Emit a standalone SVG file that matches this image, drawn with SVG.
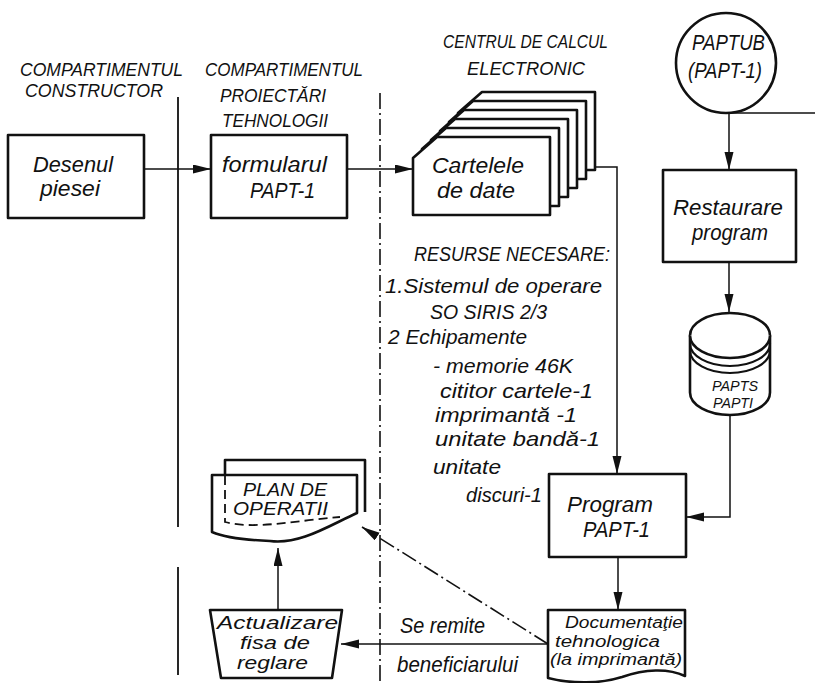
<svg xmlns="http://www.w3.org/2000/svg" width="815" height="683" viewBox="0 0 815 683">
<style>
text{font-family:"Liberation Sans",Arial,sans-serif;font-style:italic;font-size:22px;fill:#111;}
.box{fill:#fff;stroke:#111;stroke-width:2.6;stroke-linejoin:round;}
.ln{fill:none;stroke:#111;stroke-width:1.5;}
.div{fill:none;stroke:#111;stroke-width:1.8;}
.dd{fill:none;stroke:#111;stroke-width:1.6;stroke-dasharray:16,4,2,4;}
.dash{fill:none;stroke:#111;stroke-width:1.8;stroke-dasharray:9,5;}
.hd{font-size:19px;}
.res{font-size:21px;}
.sm{font-size:15px;}
.md{font-size:18px;}
.doc{font-size:16px;}
</style>
<defs>
<marker id="ah" markerUnits="userSpaceOnUse" markerWidth="20" markerHeight="10" refX="18" refY="4.5" orient="auto">
<path d="M0,0 L18,4.5 L0,9 Z" fill="#111"/>
</marker>
</defs>
<rect width="815" height="683" fill="#fff"/>

<g id="dividers">
<path class="div" d="M178,97 V527 M178,567 V675"/>
<path class="dd" d="M380,93 V682"/>
</g>

<g id="headers">
<text class="hd" x="20" y="76" textLength="163" lengthAdjust="spacingAndGlyphs">COMPARTIMENTUL</text>
<text class="hd" x="25" y="97" textLength="138" lengthAdjust="spacingAndGlyphs">CONSTRUCTOR</text>
<text class="hd" x="205" y="76" textLength="158" lengthAdjust="spacingAndGlyphs">COMPARTIMENTUL</text>
<text class="hd" x="220" y="102" textLength="106" lengthAdjust="spacingAndGlyphs">PROIECTĂRI</text>
<text class="hd" x="222" y="127" textLength="106" lengthAdjust="spacingAndGlyphs">TEHNOLOGII</text>
<text class="hd" x="443" y="48" textLength="165" lengthAdjust="spacingAndGlyphs">CENTRUL DE CALCUL</text>
<text class="hd" x="467" y="75" textLength="118" lengthAdjust="spacingAndGlyphs">ELECTRONIC</text>
</g>

<g id="desenul">
<rect class="box" x="8" y="135" width="136" height="83"/>
<text x="33" y="172" textLength="80" lengthAdjust="spacingAndGlyphs">Desenul</text>
<text x="40" y="196" textLength="60" lengthAdjust="spacingAndGlyphs">piesei</text>
</g>

<g id="formularul">
<rect class="box" x="211" y="135" width="136" height="83"/>
<text x="222" y="172" textLength="105" lengthAdjust="spacingAndGlyphs">formularul</text>
<text x="250" y="198" textLength="65" lengthAdjust="spacingAndGlyphs">PAPT-1</text>
</g>

<g id="cartelele">
<path class="box" d="M458,113 L482,92 H595 V170 H458 Z"/>
<path class="box" d="M449,122 L473,101 H586 V179 H449 Z"/>
<path class="box" d="M440,131 L464,110 H577 V188 H440 Z"/>
<path class="box" d="M431,140 L455,119 H568 V197 H431 Z"/>
<path class="box" d="M422,149 L446,128 H559 V206 H422 Z"/>
<path class="box" d="M413,158 L437,137 H550 V215 H413 Z"/>
<text x="432" y="173" textLength="92" lengthAdjust="spacingAndGlyphs">Cartelele</text>
<text x="437" y="198" textLength="78" lengthAdjust="spacingAndGlyphs">de date</text>
</g>

<g id="resurse">
<text class="res" x="414" y="261" textLength="196" lengthAdjust="spacingAndGlyphs">RESURSE NECESARE:</text>
<text class="res" x="385" y="293" textLength="217" lengthAdjust="spacingAndGlyphs">1.Sistemul de operare</text>
<text class="res" x="430" y="319" textLength="117" lengthAdjust="spacingAndGlyphs">SO SIRIS 2/3</text>
<text class="res" x="388" y="344" textLength="139" lengthAdjust="spacingAndGlyphs">2 Echipamente</text>
<text class="res" x="433" y="373" textLength="140" lengthAdjust="spacingAndGlyphs">- memorie 46K</text>
<text class="res" x="440" y="398" textLength="153" lengthAdjust="spacingAndGlyphs">cititor cartele-1</text>
<text class="res" x="435" y="422" textLength="142" lengthAdjust="spacingAndGlyphs">imprimantă -1</text>
<text class="res" x="435" y="446" textLength="165" lengthAdjust="spacingAndGlyphs">unitate bandă-1</text>
<text class="res" x="433" y="474" textLength="68" lengthAdjust="spacingAndGlyphs">unitate</text>
<text class="res" x="466" y="502" textLength="76" lengthAdjust="spacingAndGlyphs">discuri-1</text>
</g>

<g id="paptub">
<circle class="box" cx="726" cy="63" r="50"/>
<text x="692" y="50" textLength="73" lengthAdjust="spacingAndGlyphs">PAPTUB</text>
<text x="688" y="78" textLength="74" lengthAdjust="spacingAndGlyphs">(PAPT-1)</text>
</g>

<g id="restaurare">
<rect class="box" x="663" y="170" width="133" height="92"/>
<text x="673" y="215" textLength="110" lengthAdjust="spacingAndGlyphs">Restaurare</text>
<text x="692" y="240" textLength="76" lengthAdjust="spacingAndGlyphs">program</text>
</g>

<g id="papts">
<path class="box" d="M690,335.5 V392.5 A40,22.5 0 0 0 770,392.5 V335.5 A40,22.5 0 0 0 690,335.5 Z"/>
<path class="box" d="M690,335.5 A40,22.5 0 0 0 770,335.5"/>
<path class="ln" style="stroke-width:2.2" d="M690,343.5 A40,22.5 0 0 0 770,343.5 M690,350.5 A40,22.5 0 0 0 770,350.5"/>
<text class="sm" x="712" y="391" textLength="46" lengthAdjust="spacingAndGlyphs">PAPTS</text>
<text class="sm" x="713" y="408" textLength="40" lengthAdjust="spacingAndGlyphs">PAPTI</text>
</g>

<g id="program">
<rect class="box" x="549" y="474" width="137" height="83"/>
<text x="567" y="512" textLength="86" lengthAdjust="spacingAndGlyphs">Program</text>
<text x="583" y="537" textLength="67" lengthAdjust="spacingAndGlyphs">PAPT-1</text>
</g>

<g id="documentatie">
<path class="box" d="M548,610 H685 V676 C668,668 645,669 622,677 C600,684 572,684 548,678 Z"/>
<text class="doc" x="565" y="628" textLength="118" lengthAdjust="spacingAndGlyphs">Documentaţie</text>
<text class="doc" x="555" y="647" textLength="105" lengthAdjust="spacingAndGlyphs">tehnologica</text>
<text class="doc" x="550" y="665" textLength="132" lengthAdjust="spacingAndGlyphs">(la imprimantă)</text>
</g>

<g id="plan">
<path class="box" d="M225,475 V460 H365 V512"/>
<path class="box" d="M212,475 H357 V513 C330,525 300,545 270,541 C245,540 226,538 212,532 Z"/>
<path class="dash" d="M225,476 V522 C255,530 300,520 340,517"/>
<text class="md" x="243" y="496" textLength="84" lengthAdjust="spacingAndGlyphs">PLAN DE</text>
<text class="md" x="233" y="515" textLength="95" lengthAdjust="spacingAndGlyphs">OPERATII</text>
</g>

<g id="actualizare">
<path class="box" d="M210,610 H342 L332,678 H221 Z"/>
<text class="md" x="217" y="629" textLength="121" lengthAdjust="spacingAndGlyphs">Actualizare</text>
<text class="md" x="240" y="649" textLength="70" lengthAdjust="spacingAndGlyphs">fisa de</text>
<text class="md" x="237" y="669" textLength="71" lengthAdjust="spacingAndGlyphs">reglare</text>
</g>

<g id="connectors">
<path class="ln" marker-end="url(#ah)" d="M144,169 H211"/>
<path class="ln" marker-end="url(#ah)" d="M347,169 H413"/>
<path class="ln" marker-end="url(#ah)" d="M595,167 H617 V474"/>
<path class="ln" d="M726,113 H815"/>
<path class="ln" marker-end="url(#ah)" d="M729,113 V170"/>
<path class="ln" marker-end="url(#ah)" d="M729,262 V312"/>
<path class="ln" marker-end="url(#ah)" d="M730,415 V517 H686"/>
<path class="ln" marker-end="url(#ah)" d="M618,557 V610"/>
<path class="ln" marker-end="url(#ah)" d="M548,644 H341"/>
<path class="ln" marker-end="url(#ah)" d="M278,610 V548"/>
<path class="dd" marker-end="url(#ah)" d="M548,644 L362,527"/>
<text x="400" y="633" textLength="85" lengthAdjust="spacingAndGlyphs">Se remite</text>
<text x="397" y="672" textLength="121" lengthAdjust="spacingAndGlyphs">beneficiarului</text>
</g>
</svg>
